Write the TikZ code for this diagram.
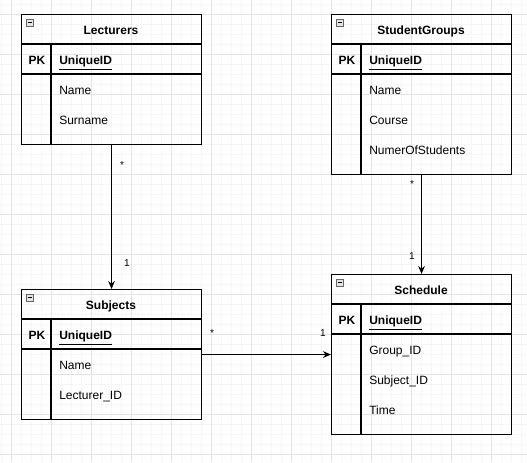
\documentclass[tikz,border=0pt]{standalone}
\usepackage{fontspec}
\setmainfont{Liberation Sans}
\usetikzlibrary{arrows.meta}
\tikzset{
  tbl/.style={draw=black, line width=0.8pt, minimum width=135pt, anchor=north west, inner sep=0pt},
  sep/.style={draw=black, line width=0.8pt},
  ttl/.style={font=\fontsize{9}{11}\selectfont\bfseries, anchor=base, inner sep=0pt},
  pk/.style={font=\fontsize{9}{11}\selectfont\bfseries, anchor=base, inner sep=0pt},
  fld/.style={font=\fontsize{9}{11}\selectfont, anchor=base west, inner sep=0pt},
  mult/.style={font=\fontsize{7.5}{9}\selectfont, inner sep=0pt},
  conn/.style={draw=black, line width=0.8pt, -{Stealth[length=6pt,width=5pt]}},
  icon/.style={draw=gray!80!black, fill=gray!20, line width=0.4pt},
}
% #1 name, #2 x, #3 y, #4 height(px), #5 title, #6 fields
\newcommand\ertbl[6]{%
  \node[tbl, minimum height=#4*0.75pt] (#1) at (#2,#3) {};
  \draw[sep] (#2,#3+30) -- ++(180,0);
  \draw[sep] (#2,#3+60) -- ++(180,0);
  \draw[sep] (#2+30,#3+30) -- (#2+30,#3+#4);
  \draw[icon] (#2+5,#3+5) rectangle (#2+12,#3+12);
  \draw[line width=0.6pt] (#2+6.5,#3+8.5) -- (#2+10.5,#3+8.5);
  \node[ttl] (#1-title) at (#2+90,#3+20.5) {#5};
  \node[pk] (#1-pk) at (#2+16,#3+50.5) {PK};
  \node[fld, font=\fontsize{9}{11}\selectfont\bfseries] (#1-id) at (#2+38,#3+50.5) {\underline{UniqueID}};
  \foreach \f [count=\i] in {#6} {
    \node[fld] (#1-f\i) at (#2+38,#3+50.5+30*\i) {\f};
  }
}
\begin{document}
\begin{tikzpicture}[x=0.75pt,y=-0.75pt]
\useasboundingbox (0,0) rectangle (527,462);
\fill[white] (0,0) rectangle (527,462);
% grid
\foreach \x in {1.5,11.5,...,527} \draw[gray!7, line width=0.5pt] (\x,0) -- (\x,462);
\foreach \y in {4.3,14.3,...,462} \draw[gray!7, line width=0.5pt] (0,\y) -- (527,\y);
\foreach \x in {11.5,51.5,...,527} \draw[gray!22, line width=0.6pt] (\x,0) -- (\x,462);
\foreach \y in {14.3,54.3,...,462} \draw[gray!22, line width=0.6pt] (0,\y) -- (527,\y);

\ertbl{lect}{21}{14}{130}{Lecturers}{Name,Surname}
\ertbl{groups}{331}{14}{160}{StudentGroups}{Name,Course,NumerOfStudents}
\ertbl{subj}{21}{289}{130}{Subjects}{Name,Lecturer\_ID}
\ertbl{sched}{331}{274}{160}{Schedule}{Group\_ID,Subject\_ID,Time}

\draw[conn] (lect.south) -- (subj.north);
\draw[conn] (groups.south) -- (sched.north);
\draw[conn] (subj.east) -- (subj.east -| sched.west);

\node[mult] (m1) at (122,165) {*};
\node[mult] (m2) at (127,263) {1};
\node[mult] (m3) at (412,184) {*};
\node[mult] (m4) at (412,256) {1};
\node[mult] (m5) at (212,333) {*};
\node[mult] (m6) at (323,333) {1};
\end{tikzpicture}
\end{document}
